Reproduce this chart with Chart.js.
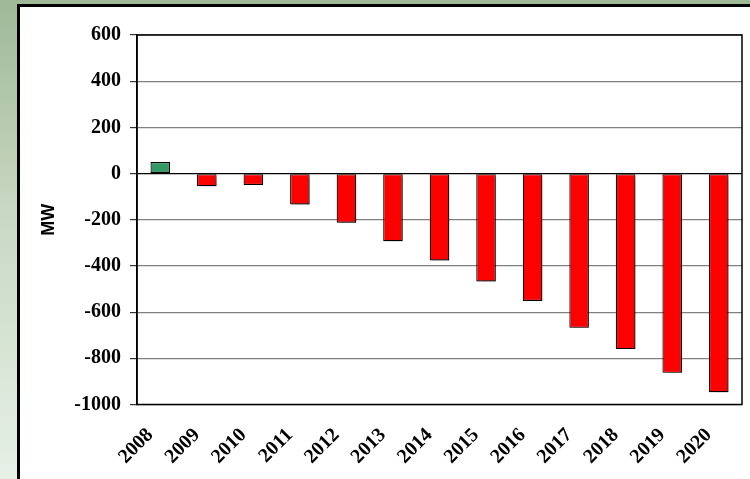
<!DOCTYPE html>
<html>
<head>
<meta charset="utf-8">
<script src="https://cdn.jsdelivr.net/npm/chart.js@4/dist/chart.umd.min.js"></script>
<style>
  html, body { margin: 0; padding: 0; }
  body {
    width: 750px; height: 479px; overflow: hidden; position: relative;
    background: linear-gradient(to bottom, #9fb996 0%, #c8d9c3 45%, #e6f0e6 100%);
  }
  #panel {
    position: absolute; left: 17px; top: 4px; width: 760px; height: 500px;
    background: #fff; border: 3px solid #000; box-sizing: border-box;
  }
  #wrap { position: absolute; left: 0; top: 0; width: 750px; height: 479px; }
</style>
</head>
<body>
<div id="panel"></div>
<div id="wrap"><canvas id="chart" width="750" height="479"></canvas></div>
<script>
// data
const years = ['2008', '2009', '2010', '2011', '2012', '2013', '2014',
  '2015', '2016', '2017', '2018', '2019', '2020'];
const values = [50, -55, -49, -134, -213, -293, -376, -467, -552, -668, -760, -863, -947];
const yMin = -1000;
const yMax = 600;
const yStep = 200;
const yTitle = 'MW';

// positive bars green, negative red
const barColors = values.map((v) => (v >= 0 ? '#339966' : '#ff0000'));

// black frame round the plot area
const frame = {
  id: 'frame',
  afterDraw(chart) {
    const a = chart.chartArea;
    const ctx = chart.ctx;
    ctx.save();
    ctx.strokeStyle = '#000';
    ctx.lineWidth = 1.5;
    ctx.strokeRect(a.left, a.top, a.right - a.left, a.bottom - a.top);
    ctx.restore();
  },
};

// light drop shadow under the bars, like the excel original
const barShadow = {
  id: 'barShadow',
  beforeDatasetsDraw(chart) {
    const ctx = chart.ctx;
    ctx.save();
    ctx.shadowColor = 'rgba(0,0,0,0.3)';
    ctx.shadowOffsetX = 2;
    ctx.shadowOffsetY = 2;
    ctx.shadowBlur = 1;
  },
  afterDatasetsDraw(chart) {
    chart.ctx.restore();
  },
};

const ctx = document.getElementById('chart');

new Chart(ctx, {
  type: 'bar',
  data: {
    labels: years,
    datasets: [
      {
        data: values,
        backgroundColor: barColors,
        borderColor: '#000',
        borderWidth: 1.2,
        borderSkipped: false,
        categoryPercentage: 1,
        barPercentage: 0.42,
      },
    ],
  },
  options: {
    responsive: false,
    animation: false,
    devicePixelRatio: 1,
    layout: { padding: { left: 20, top: 35, right: 8, bottom: 0 } },
    plugins: { legend: { display: false }, tooltip: { enabled: false } },
    scales: {
      x: {
        grid: { display: false, drawTicks: false },
        border: { display: false },
        ticks: {
          minRotation: 45,
          maxRotation: 45,
          padding: 19,
          labelOffset: -10,
          color: '#000',
          font: { family: 'Liberation Serif', size: 20, weight: 'bold' },
        },
        afterFit(scale) {
          scale.height = 74.5;
          // labels must not squeeze the plot sideways
          scale.paddingLeft = 0;
          scale.paddingRight = 0;
        },
      },
      y: {
        min: yMin,
        max: yMax,
        ticks: {
          stepSize: yStep,
          padding: 9,
          color: '#000',
          font: { family: 'Liberation Serif', size: 20, weight: 'bold' },
          callback: (v) => String(v),
        },
        grid: {
          color: (c) => (c.tick && c.tick.value === 0 ? '#000' : '#808080'),
          tickColor: '#333',
          tickLength: 7,
          lineWidth: 1.2,
        },
        border: { color: '#000', width: 1.5 },
        title: {
          display: true,
          text: yTitle,
          color: '#000',
          padding: { top: 18, bottom: 0 },
          font: { family: 'Liberation Sans', size: 18, weight: 'bold' },
        },
        afterFit(scale) { scale.width = 117; },
      },
    },
  },
  plugins: [frame, barShadow],
});
</script>
</body>
</html>
